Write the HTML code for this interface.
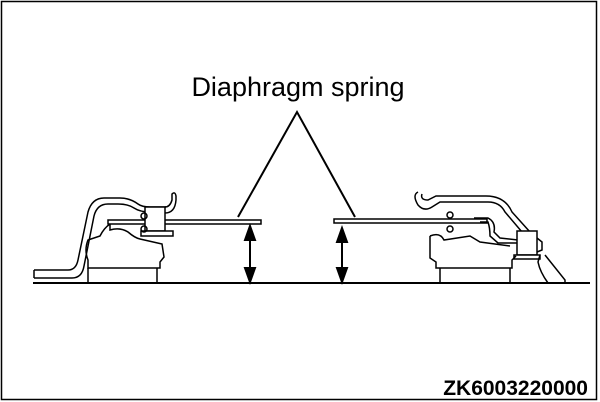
<!DOCTYPE html>
<html><head><style>
body{margin:0;background:#fff;}
svg{display:block;}
</style></head><body>
<svg width="600" height="402" viewBox="0 0 600 402">
<rect x="1.5" y="1.5" width="595" height="398" fill="none" stroke="#000" stroke-width="1.5"/>
<text x="298" y="96" font-family="Liberation Sans, sans-serif" font-size="27" text-anchor="middle">Diaphragm spring</text>
<polyline points="238,217 297,112 355,217" fill="none" stroke="#000" stroke-width="2"/>
<g fill="none" stroke="#000" stroke-width="1.5">
<line x1="33" y1="283" x2="590" y2="283" stroke-width="2"/>
<path d="M34,270 L68,270 Q76,270 78,260 L88,212 Q92,198 104,198 L120,198 Q130,198 138,204 Q142,207 150,207 L166,207" />
<path d="M34,278 L72,278 Q82,278 84,266 L94,216 Q97,204 108,204 L118,204 Q128,204 134,208 Q140,212 150,212" />
<path d="M34,270 L34,278" />
<path d="M165,207 Q170,207 172,200 L172,194 Q175,191 176,196 L176,200 Q175,213 165,213" />
<rect x="108" y="220" width="153" height="4" fill="#fff"/>
<rect x="145" y="207" width="20" height="24" fill="#fff"/>
<rect x="141" y="231" width="32" height="5" fill="#fff"/>
<circle cx="144" cy="216" r="3"/>
<circle cx="144" cy="229" r="3"/>
<path d="M110,224 L110,230 Q120,227 128,232 Q135,238 140,239 L162,244 L164,257 L160,262 L160,268 L88,268 L88,260 Q84,250 88,240 L100,236 Q104,228 110,224" />
<path d="M88,268 L88,283 M157,268 L157,283"/>
</g>
<g fill="none" stroke="#000" stroke-width="1.5">
<rect x="334" y="219" width="153" height="4" fill="#fff"/>
<circle cx="450" cy="215" r="3"/>
<circle cx="450" cy="229" r="3"/>
<path d="M418,192 Q412,195 418,205 Q424,212 432,207 L440,202 L488,202 Q500,202 505,212 L522,232"/>
<path d="M422,194 Q420,200 428,200 L436,196 L486,196 Q505,196 512,212 L530,232"/>
<path d="M474,218 L488,218 Q496,222 494,232 L500,238 L518,240"/>
<path d="M480,222 L488,222 Q490,228 490,236 L498,243 L518,243"/>
<rect x="517" y="231" width="20" height="24" fill="#fff"/>
<rect x="514" y="255" width="26" height="4" fill="#fff"/>
<path d="M537,238 L542,242 L542,250 L537,252"/>
<path d="M545,255 L565,280 L565,283 M540,255 L538,262 Q540,272 548,283"/>
<path d="M430,236 L430,258 L436,262 L436,268 L512,268 L512,260 L516,256 M430,236 Q440,232 444,240 L470,236 L480,242 L510,246"/>
<path d="M440,268 L440,283 M510,268 L510,283"/>
</g>
<g stroke="#000" stroke-width="2" fill="#000">
<line x1="250" y1="236" x2="250" y2="272"/>
<polygon points="250,226 245,240 255,240"/>
<polygon points="250,282 245,268 255,268"/>
<line x1="342" y1="236" x2="342" y2="272"/>
<polygon points="342,228 337,242 347,242"/>
<polygon points="342,282 337,268 347,268"/>
</g>
<text x="588" y="395" font-family="Liberation Sans, sans-serif" font-size="21" font-weight="bold" text-anchor="end">ZK6003220000</text>
</svg>
</body></html>
